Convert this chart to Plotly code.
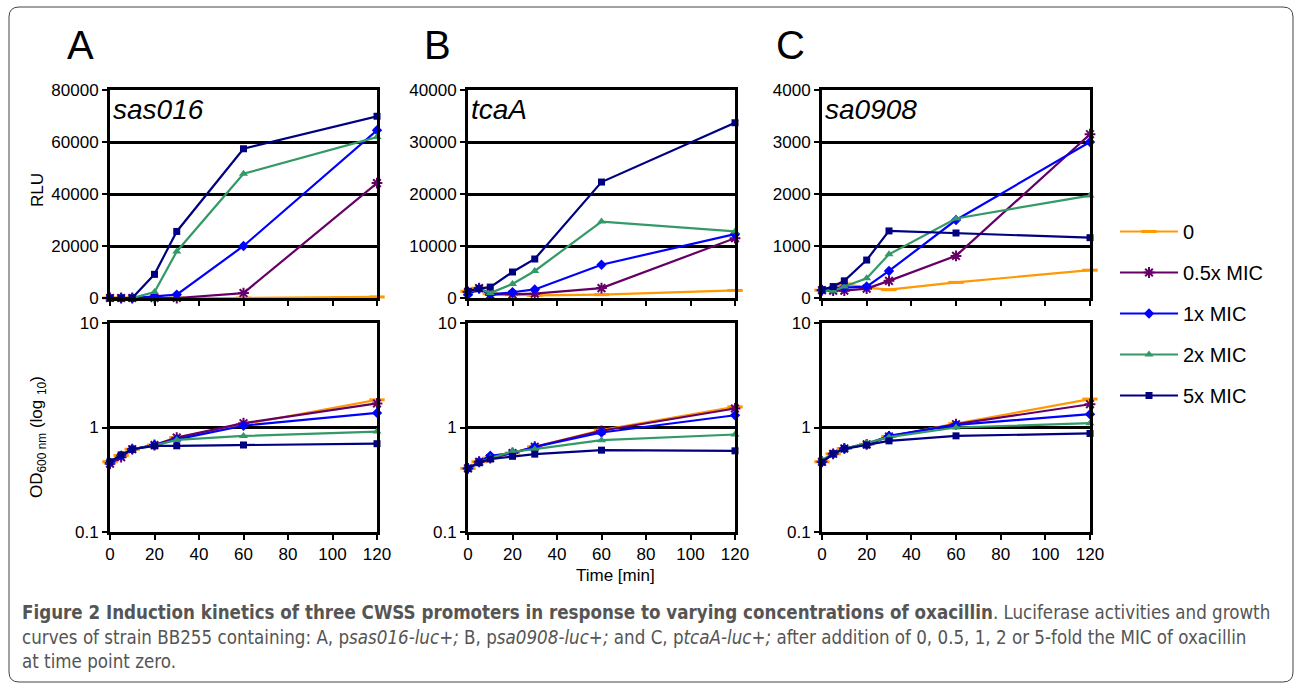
import plotly.graph_objects as go

W, H = 1295, 683

time_min = [0, 5, 10, 20, 30, 60, 120]
series_names = ["0", "0.5x MIC", "1x MIC", "2x MIC", "5x MIC"]

# Panel A: sas016 (RLU)
rlu_a = {
    "0":        [0, 0, 0, 0, 0, 0, 400],
    "0.5x MIC": [0, 0, 0, 0, 0, 1900, 44200],
    "1x MIC":   [0, 0, 0, 600, 1300, 20000, 64500],
    "2x MIC":   [0, 0, 0, 2300, 17900, 47800, 61900],
    "5x MIC":   [0, 0, 0, 9100, 25600, 57400, 69900],
}
# Panel B: tcaA (RLU)
rlu_b = {
    "0":        [1300, 1900, 830, 640, 500, 640, 1450],
    "0.5x MIC": [1150, 1900, 640, 700, 830, 1900, 11500],
    "1x MIC":   [640, 1800, 700, 1100, 1650, 6400, 12300],
    "2x MIC":   [1150, 1800, 950, 2700, 5200, 14700, 12800],
    "5x MIC":   [1300, 1800, 2100, 5000, 7500, 22300, 33700],
}
# Panel C: sa0908 (RLU)
rlu_c = {
    "0":        [150, 180, 270, 200, 160, 300, 535],
    "0.5x MIC": [150, 140, 140, 180, 330, 810, 3150],
    "1x MIC":   [150, 190, 200, 220, 520, 1500, 3000],
    "2x MIC":   [150, 140, 220, 380, 840, 1530, 1970],
    "5x MIC":   [160, 220, 330, 730, 1290, 1250, 1160],
}
# OD600 values
od_a = {
    "0":        [0.47, 0.54, 0.62, 0.68, 0.80, 1.07, 1.84],
    "0.5x MIC": [0.45, 0.52, 0.62, 0.68, 0.80, 1.10, 1.70],
    "1x MIC":   [0.46, 0.54, 0.62, 0.68, 0.77, 1.04, 1.38],
    "2x MIC":   [0.47, 0.55, 0.62, 0.67, 0.76, 0.83, 0.915],
    "5x MIC":   [0.47, 0.547, 0.62, 0.668, 0.668, 0.68, 0.70],
}
od_b = {
    "0":        [0.406, 0.47, 0.51, 0.57, 0.655, 0.943, 1.575],
    "0.5x MIC": [0.406, 0.47, 0.51, 0.57, 0.654, 0.93, 1.52],
    "1x MIC":   [0.406, 0.47, 0.536, 0.57, 0.65, 0.896, 1.31],
    "2x MIC":   [0.406, 0.46, 0.51, 0.586, 0.62, 0.757, 0.857],
    "5x MIC":   [0.406, 0.46, 0.50, 0.53, 0.556, 0.607, 0.598],
}
od_c = {
    "0":        [0.47, 0.56, 0.63, 0.69, 0.82, 1.09, 1.87],
    "0.5x MIC": [0.47, 0.56, 0.63, 0.69, 0.82, 1.076, 1.67],
    "1x MIC":   [0.47, 0.56, 0.63, 0.69, 0.832, 1.06, 1.34],
    "2x MIC":   [0.49, 0.56, 0.625, 0.71, 0.808, 1.0, 1.10],
    "5x MIC":   [0.466, 0.56, 0.625, 0.68, 0.745, 0.832, 0.877],
}

gene_labels = ["sas016", "tcaA", "sa0908"]
panel_letters = ["A", "B", "C"]
rlu_ticks = [[0, 20000, 40000, 60000, 80000],
             [0, 10000, 20000, 30000, 40000],
             [0, 1000, 2000, 3000, 4000]]
od_ticks = [0.1, 1, 10]
od_tick_text = ["0.1", "1", "10"]
x_ticks = [0, 20, 40, 60, 80, 100, 120]

colors = {"0": "#FF9900", "0.5x MIC": "#660066", "1x MIC": "#0000FF",
          "2x MIC": "#339966", "5x MIC": "#000080"}
symbols = {"0": "line-ew", "0.5x MIC": "asterisk", "1x MIC": "diamond",
           "2x MIC": "triangle-up", "5x MIC": "square"}
msize = {"0": 11, "0.5x MIC": 9, "1x MIC": 8, "2x MIC": 8, "5x MIC": 7}

FONT = "Liberation Sans, Arial, sans-serif"

# pixel layout
panel_x = [(110, 377), (468, 735), (822, 1090)]
top_y = (90, 298)
bot_y = (323, 532)

def px(x):
    return x / W

def py(y):
    return (H - y) / H

fig = go.Figure()
layout = {}

rlu_sets = [rlu_a, rlu_b, rlu_c]
od_sets = [od_a, od_b, od_c]

for i in range(3):
    top_idx = 2 * i + 1
    bot_idx = 2 * i + 2
    for idx, data, is_top in [(top_idx, rlu_sets[i], True), (bot_idx, od_sets[i], False)]:
        xa = "x" if idx == 1 else f"x{idx}"
        ya = "y" if idx == 1 else f"y{idx}"
        for name in series_names:
            sym = symbols[name]
            open_sym = sym in ("line-ew", "asterisk")
            fig.add_trace(go.Scatter(
                x=time_min, y=data[name], mode="lines+markers", name=name,
                xaxis=xa, yaxis=ya, cliponaxis=False,
                line=dict(color=colors[name], width=2.2),
                marker=dict(symbol=sym, size=msize[name], color=colors[name],
                            line=dict(color=colors[name],
                                      width=(3 if sym == "line-ew" else 2) if open_sym else 0)),
                showlegend=(idx == 1), legendgroup=name,
            ))
        xkey = "xaxis" if idx == 1 else f"xaxis{idx}"
        ykey = "yaxis" if idx == 1 else f"yaxis{idx}"
        x0, x1 = panel_x[i]
        yy = top_y if is_top else bot_y
        layout[xkey] = dict(
            domain=[px(x0), px(x1)], anchor=ya, range=[0, 120],
            tickvals=x_ticks, showticklabels=not is_top,
            ticks="outside", ticklen=5, tickwidth=2, tickcolor="black",
            showline=True, linewidth=3, linecolor="black", mirror=True,
            showgrid=False, zeroline=False,
            tickfont=dict(family=FONT, size=17, color="black"),
        )
        if is_top:
            tv = rlu_ticks[i]
            layout[ykey] = dict(
                domain=[py(yy[1]), py(yy[0])], anchor=xa,
                range=[0, tv[-1]], tickvals=tv, tickformat="d",
                ticks="outside", ticklen=5, tickwidth=2, tickcolor="black",
                showline=True, linewidth=3, linecolor="black", mirror=True,
                showgrid=True, gridcolor="black", gridwidth=2.5, zeroline=False,
                tickfont=dict(family=FONT, size=17, color="black"),
            )
        else:
            layout[ykey] = dict(
                domain=[py(yy[1]), py(yy[0])], anchor=xa,
                type="log", range=[-1, 1], tickvals=od_ticks, ticktext=od_tick_text,
                ticks="outside", ticklen=5, tickwidth=2, tickcolor="black",
                showline=True, linewidth=3, linecolor="black", mirror=True,
                showgrid=True, gridcolor="black", gridwidth=2.5, zeroline=False,
                tickfont=dict(family=FONT, size=17, color="black"),
            )

annotations = []
letter_x = [80, 437, 790]
for i in range(3):
    annotations.append(dict(text=panel_letters[i], x=px(letter_x[i]), y=py(45),
                            xref="paper", yref="paper", showarrow=False,
                            xanchor="center", yanchor="middle",
                            font=dict(family=FONT, size=40, color="black")))
    annotations.append(dict(text=f"<i>{gene_labels[i]}</i>", x=px(panel_x[i][0] + 1),
                            y=py(110), xref="paper", yref="paper", showarrow=False,
                            xanchor="left", yanchor="middle",
                            font=dict(family=FONT, size=28, color="black")))

annotations.append(dict(text="RLU", x=px(38), y=py(190), xref="paper", yref="paper",
                        showarrow=False, textangle=-90, xanchor="center", yanchor="middle",
                        font=dict(family=FONT, size=17, color="black")))
annotations.append(dict(text="OD<sub>600 nm</sub> (log <sub>10</sub>)", x=px(38), y=py(437),
                        xref="paper", yref="paper", showarrow=False, textangle=-90,
                        xanchor="center", yanchor="middle",
                        font=dict(family=FONT, size=17, color="black")))
annotations.append(dict(text="Time [min]", x=px(615), y=py(575), xref="paper", yref="paper",
                        showarrow=False, xanchor="center", yanchor="middle",
                        font=dict(family=FONT, size=17, color="black")))

CAP_FONT = "Liberation Sans Narrow, DejaVu Sans Condensed, Arial Narrow, sans-serif"
cap_lines = [
    "<b>Figure 2 Induction kinetics of three CWSS promoters in response to varying concentrations of oxacillin</b>. Luciferase activities and growth",
    "curves of strain BB255 containing: A, p<i>sas016-luc+;</i> B, p<i>sa0908-luc+;</i> and C, p<i>tcaA-luc+;</i> after addition of 0, 0.5, 1, 2 or 5-fold the MIC of oxacillin",
    "at time point zero.",
]
cap_y = [612, 637, 661]
for t, yv in zip(cap_lines, cap_y):
    annotations.append(dict(text=t, x=px(20), y=py(yv), xref="paper", yref="paper",
                            xanchor="left", yanchor="middle", showarrow=False,
                            font=dict(family=CAP_FONT, size=18.6, color="#555555")))

shapes = [dict(type="path", xref="paper", yref="paper",
               path=f"M {px(19)},{py(7)} L {px(1283)},{py(7)} Q {px(1293)},{py(7)} {px(1293)},{py(17)} "
                    f"L {px(1293)},{py(672)} Q {px(1293)},{py(682)} {px(1283)},{py(682)} "
                    f"L {px(19)},{py(682)} Q {px(9)},{py(682)} {px(9)},{py(672)} "
                    f"L {px(9)},{py(17)} Q {px(9)},{py(7)} {px(19)},{py(7)} Z",
               line=dict(color="#444444", width=1))]

fig.update_layout(
    width=W, height=H, margin=dict(l=0, r=0, t=0, b=0, autoexpand=False),
    paper_bgcolor="white", plot_bgcolor="white",
    annotations=annotations, shapes=shapes,
    legend=dict(x=px(1115), y=py(212), xanchor="left", yanchor="top",
                font=dict(family=FONT, size=20, color="black"),
                itemwidth=58, tracegroupgap=12, bgcolor="rgba(0,0,0,0)"),
    **layout,
)

fig.write_html(
    "out.html",
    config={"displayModeBar": False},
    post_script="document.body.style.margin='0';document.body.style.overflow='hidden';",
)
